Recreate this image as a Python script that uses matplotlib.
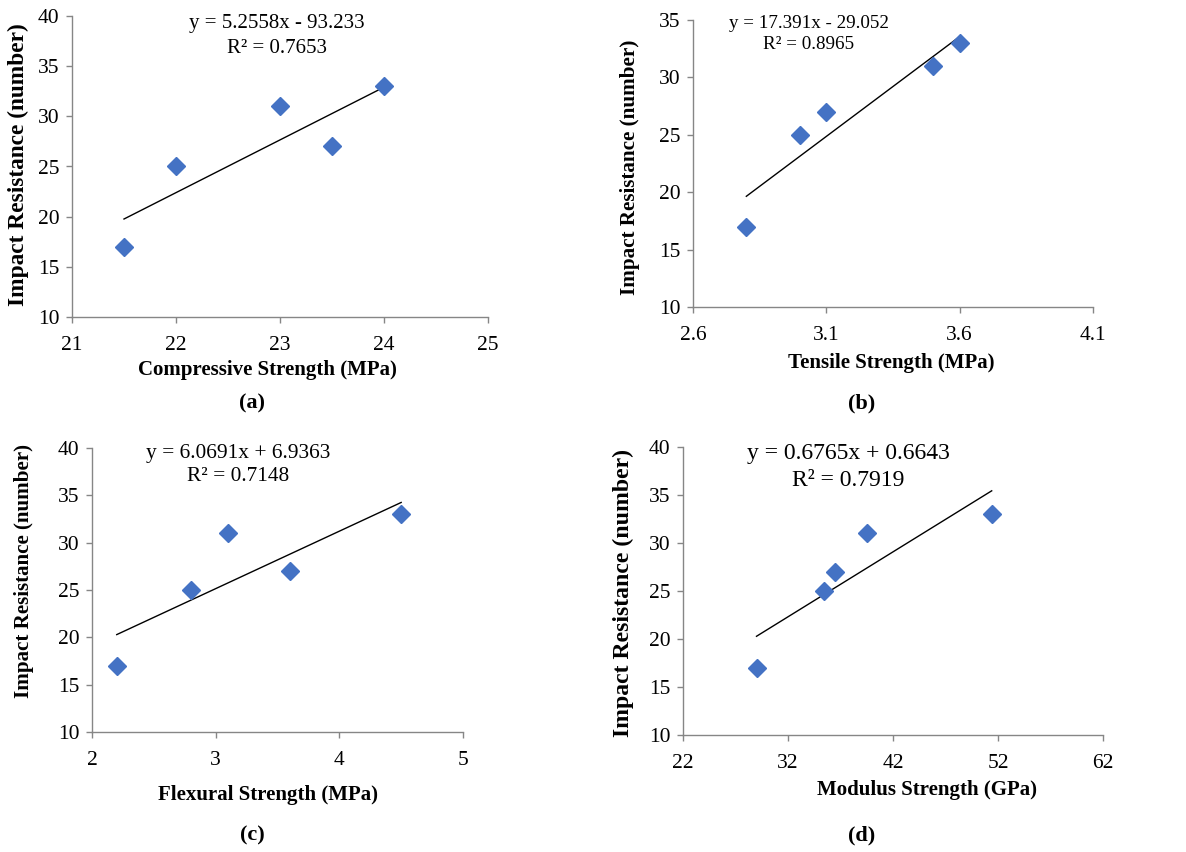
import numpy as np
import matplotlib.pyplot as plt

plt.rcParams['font.family'] = ['Liberation Serif', 'DejaVu Serif']

# data
compressive_x = [21.5, 22, 23, 23.5, 24]
compressive_y = [17, 25, 31, 27, 33]
tensile_x = [2.8, 3.0, 3.1, 3.5, 3.6]
tensile_y = [17, 25, 27, 31, 33]
flexural_x = [2.2, 2.8, 3.1, 3.6, 4.5]
flexural_y = [17, 25, 31, 27, 33]
modulus_x = [29, 35.4, 36.5, 39.5, 51.4]
modulus_y = [17, 25, 27, 31, 33]

slopes = [5.2558, 17.391, 6.0691, 0.6765]
intercepts = [-93.233, -29.052, 6.9363, 0.6643]
eq_texts = ["y = 5.2558x - 93.233\nR² = 0.7653",
            "y = 17.391x - 29.052\nR² = 0.8965",
            "y = 6.0691x + 6.9363\nR² = 0.7148",
            "y = 0.6765x + 0.6643\nR² = 0.7919"]
xlabels = ["Compressive Strength (MPa)", "Tensile Strength (MPa)",
           "Flexural Strength (MPa)", "Modulus Strength (GPa)"]
panel_labels = ["(a)", "(b)", "(c)", "(d)"]
xticks = [[21, 22, 23, 24, 25], [2.6, 3.1, 3.6, 4.1], [2, 3, 4, 5], [22, 32, 42, 52, 62]]
yticks = [[10, 15, 20, 25, 30, 35, 40], [10, 15, 20, 25, 30, 35],
          [10, 15, 20, 25, 30, 35, 40], [10, 15, 20, 25, 30, 35, 40]]

xs = [compressive_x, tensile_x, flexural_x, modulus_x]
ys = [compressive_y, tensile_y, flexural_y, modulus_y]

W, H = 1186, 852
fig = plt.figure(figsize=(W / 100, H / 100), dpi=100)

# axes boxes in pixels: left, top, right, bottom
boxes = [(72, 16, 488, 317), (693, 20, 1093, 307), (92, 448, 463, 732), (683, 447, 1103, 735)]
xlab_pos = [(0.469, -0.176), (0.495, -0.195), (0.475, -0.222), (0.581, -0.191)]
ylab_pos = [(-0.128, 0.505), (-0.158, 0.488), (-0.184, 0.567), (-0.141, 0.493)]
ylab_size = [16.8, 15.2, 15.1, 17.1]
eq_pos = [(277, 36), (809, 34), (238, 465), (848, 467)]
eq_size = [15, 13.7, 15.4, 17]
eq_spacing = [1.38, 1.3, 1.32, 1.35]
panel_pos = [(252, 403), (862, 403), (252, 835), (862, 835)]

for i in range(4):
    l, t, r, b = boxes[i]
    ax = fig.add_axes([l / W, 1 - b / H, (r - l) / W, (b - t) / H])
    x = np.array(xs[i])
    xx = np.array([x.min(), x.max()])
    ax.plot(xx, slopes[i] * xx + intercepts[i], color='black', lw=1.0, zorder=2)
    ax.plot(x, ys[i], 'D', color='#4472C4', ms=9.5, mec='#4472C4', zorder=3, clip_on=False)
    ax.set_xlim(xticks[i][0], xticks[i][-1])
    ax.set_ylim(yticks[i][0], yticks[i][-1])
    ax.set_xticks(xticks[i])
    ax.set_yticks(yticks[i])
    ax.set_xticklabels([str(v) for v in xticks[i]])
    for s in ['top', 'right']:
        ax.spines[s].set_visible(False)
    for s in ['left', 'bottom']:
        ax.spines[s].set_color('#868686')
        ax.spines[s].set_linewidth(1.0)
    ax.tick_params(direction='out', length=4, width=1.0, color='#868686',
                   labelsize=15.5)
    ax.tick_params(axis='x', pad=10)
    ax.tick_params(axis='y', pad=5)
    ax.set_xlabel(xlabels[i], fontsize=15, fontweight='bold', va='center')
    ax.xaxis.set_label_coords(*xlab_pos[i])
    ax.set_ylabel("Impact Resistance (number)", fontsize=ylab_size[i],
                  fontweight='bold', va='center')
    ax.yaxis.set_label_coords(*ylab_pos[i])
    fig.text(eq_pos[i][0] / W, 1 - eq_pos[i][1] / H, eq_texts[i], ha='center', va='center',
             multialignment='center', fontsize=eq_size[i], linespacing=eq_spacing[i])
    fig.text(panel_pos[i][0] / W, 1 - panel_pos[i][1] / H, panel_labels[i], ha='center',
             va='center', fontsize=16, fontweight='bold')

fig.savefig('out.png', dpi=100)
